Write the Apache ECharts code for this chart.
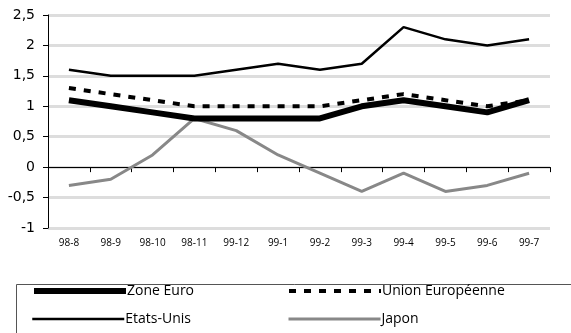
<!DOCTYPE html>
<html>
<head>
<meta charset="utf-8">
<script src="https://cdn.jsdelivr.net/npm/echarts@6/dist/echarts.min.js"></script>
<style>
html,body{margin:0;padding:0;background:#fff;}
#chart{width:571px;height:333px;}
</style>
</head>
<body>
<div id="chart"></div>
<script>
// Monthly inflation rates (%), Aug 1998 - Jul 1999
const categories = ['98-8','98-9','98-10','98-11','99-12','99-1','99-2','99-3','99-4','99-5','99-6','99-7'];
const zoneEuro = [1.1, 1.0, 0.9, 0.8, 0.8, 0.8, 0.8, 1.0, 1.1, 1.0, 0.9, 1.1];
const unionEuropeenne = [1.3, 1.2, 1.1, 1.0, 1.0, 1.0, 1.0, 1.1, 1.2, 1.1, 1.0, 1.1];
const etatsUnis = [1.6, 1.5, 1.5, 1.5, 1.6, 1.7, 1.6, 1.7, 2.3, 2.1, 2.0, 2.1];
const japon = [-0.3, -0.2, 0.2, 0.8, 0.6, 0.2, -0.1, -0.4, -0.1, -0.4, -0.3, -0.1];

const FONT = 'Open Sans';
const chart = echarts.init(document.getElementById('chart'), null, {renderer: 'canvas'});

// one legend block per entry so each sits in its own column/row
function legendAt(name, left, top, lineStyle) {
  return {
    data: [name], left: left, top: top, itemWidth: 92, itemHeight: 14, itemGap: 0,
    padding: 0, selectedMode: false,
    itemStyle: {opacity: 0},
    lineStyle: lineStyle,
    textStyle: {fontFamily: FONT, fontSize: 14, color: '#000', padding: [0, 0, 0, -4]}
  };
}

chart.setOption({
  animation: false,
  backgroundColor: '#fff',
  grid: {left: 48, right: 21, top: 15, bottom: 105},
  xAxis: {
    type: 'category', data: categories, boundaryGap: true,
    axisLine: {lineStyle: {color: '#000', width: 1}},
    axisTick: {show: true, length: 5, lineStyle: {color: '#000'}},
    axisLabel: {fontFamily: FONT, fontSize: 10, color: '#000', margin: 10}
  },
  yAxis: {
    type: 'value', min: -1, max: 2.5, interval: 0.5,
    axisLine: {show: true, lineStyle: {color: '#000', width: 1}},
    axisTick: {show: true, length: 5, lineStyle: {color: '#000'}},
    axisLabel: {fontFamily: 'DejaVu Sans', fontSize: 14, color: '#000', margin: 13,
      formatter: v => String(v).replace('.', ',')},
    splitLine: {show: true, lineStyle: {color: '#dddddd', width: 3}}
  },
  legend: [
    legendAt('Zone Euro', 31, 284, {width: 6, color: '#000'}),
    legendAt('Union Européenne', 287, 284, {width: 4, color: '#000', type: [7, 8]}),
    legendAt('Etats-Unis', 31, 312, {width: 2.5, color: '#000'}),
    legendAt('Japon', 287, 312, {width: 3, color: '#888888'})
  ],
  graphic: [{
    type: 'rect', left: 14, top: 282, z: -1,
    shape: {width: 620, height: 80},
    style: {fill: 'none', stroke: '#555', lineWidth: 1}
  }],
  series: [
    {name: 'Japon', type: 'line', data: japon, symbol: 'none', z: 1,
      lineStyle: {color: '#888888', width: 3}, itemStyle: {color: '#888888'}},
    {name: 'Etats-Unis', type: 'line', data: etatsUnis, symbol: 'none', z: 2,
      lineStyle: {color: '#000', width: 2.5}, itemStyle: {color: '#000'}},
    {name: 'Union Européenne', type: 'line', data: unionEuropeenne, symbol: 'none', z: 3,
      lineStyle: {color: '#000', width: 4, type: [7, 8]}, itemStyle: {color: '#000'}},
    {name: 'Zone Euro', type: 'line', data: zoneEuro, symbol: 'none', z: 4,
      lineStyle: {color: '#000', width: 6}, itemStyle: {color: '#000'}}
  ]
});
</script>
</body>
</html>
